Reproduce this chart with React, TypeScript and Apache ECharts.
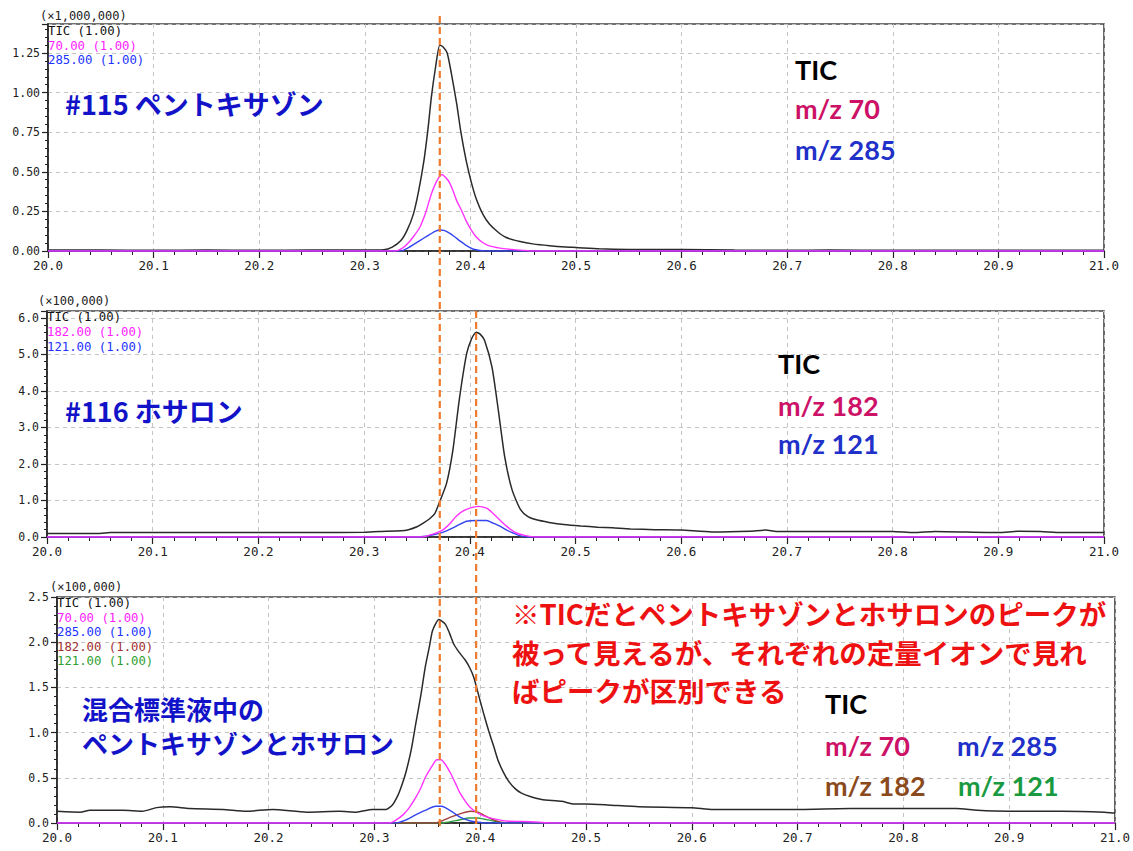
import React, { useEffect, useRef } from "react";
import * as echarts from "echarts";

// ---- axis ranges / ticks ----
const X_MIN = 20.0;
const X_MAX = 21.0;
const X_STEP = 0.1;
const Y1_MAX = 1.433; // ×1,000,000
const Y1_STEP = 0.25;
const Y2_MAX = 6.19; // ×100,000
const Y2_STEP = 1;
const Y3_MAX = 2.5; // ×100,000
const Y3_STEP = 0.5;

// ---- retention times of the two marked peaks ----
const PEAK_PENTOXAZONE = 20.371;
const PEAK_PHOSALONE = 20.406;

// ---- panel 1 : #115 pentoxazone (×1,000,000) ----
const tic115 = [
  [20.0, 0.006], [20.05, 0.006], [20.1, 0.005], [20.15, 0.006], [20.2, 0.005], [20.25, 0.006],
  [20.3, 0.006], [20.318, 0.008], [20.326, 0.025], [20.334, 0.064], [20.34, 0.13], [20.346, 0.233],
  [20.351, 0.38], [20.356, 0.57], [20.36, 0.78], [20.363, 0.97], [20.367, 1.16], [20.371, 1.3],
  [20.374, 1.29], [20.378, 1.25], [20.382, 1.12], [20.387, 0.93], [20.391, 0.75], [20.396, 0.57],
  [20.401, 0.43], [20.406, 0.32], [20.412, 0.23], [20.418, 0.17], [20.426, 0.12], [20.434, 0.085],
  [20.447, 0.06], [20.459, 0.045], [20.475, 0.033], [20.49, 0.025], [20.5, 0.022], [20.522, 0.014],
  [20.55, 0.01], [20.6, 0.009], [20.65, 0.006], [20.7, 0.004], [20.74, 0.006], [20.8, 0.004],
  [20.9, 0.004], [21.0, 0.004],
];
const mz70_115 = [
  [20.0, 0], [20.329, 0], [20.335, 0.015], [20.34, 0.042], [20.346, 0.09], [20.352, 0.148],
  [20.358, 0.25], [20.363, 0.36], [20.368, 0.44], [20.373, 0.483], [20.379, 0.445], [20.383, 0.39],
  [20.387, 0.318], [20.392, 0.25], [20.396, 0.19], [20.401, 0.13], [20.406, 0.085], [20.412, 0.052],
  [20.418, 0.032], [20.428, 0.018], [20.437, 0.011], [20.45, 0.004], [20.459, 0], [21.0, 0],
];
const mz285_115 = [
  [20.0, 0], [20.334, 0], [20.341, 0.02], [20.349, 0.053], [20.356, 0.082], [20.362, 0.106],
  [20.367, 0.125], [20.371, 0.133], [20.375, 0.13], [20.379, 0.117], [20.385, 0.09], [20.39, 0.064],
  [20.396, 0.035], [20.403, 0.011], [20.415, 0], [21.0, 0],
];

// ---- panel 2 : #116 phosalone (×100,000) ----
const tic116 = [
  [20.0, 0.095], [20.05, 0.095], [20.06, 0.12], [20.15, 0.12], [20.2, 0.12], [20.25, 0.12],
  [20.3, 0.13], [20.314, 0.15], [20.335, 0.17], [20.342, 0.2], [20.35, 0.28], [20.356, 0.38],
  [20.362, 0.5], [20.367, 0.65], [20.371, 0.93], [20.378, 1.47], [20.384, 2.38], [20.39, 3.75],
  [20.397, 5.02], [20.402, 5.45], [20.406, 5.61], [20.41, 5.55], [20.414, 5.38], [20.421, 4.65],
  [20.427, 3.47], [20.433, 2.2], [20.44, 1.29], [20.448, 0.75], [20.455, 0.56], [20.463, 0.47],
  [20.475, 0.4], [20.489, 0.34], [20.505, 0.3], [20.521, 0.27], [20.535, 0.25], [20.552, 0.22],
  [20.575, 0.2], [20.6, 0.19], [20.629, 0.14], [20.665, 0.16], [20.68, 0.19], [20.69, 0.15],
  [20.75, 0.15], [20.8, 0.15], [20.82, 0.12], [20.84, 0.15], [20.9, 0.12], [20.92, 0.16],
  [20.94, 0.15], [20.96, 0.12], [21.0, 0.12],
];
const mz182_116 = [
  [20.0, 0], [20.355, 0], [20.362, 0.05], [20.369, 0.12], [20.375, 0.2], [20.381, 0.36],
  [20.387, 0.56], [20.393, 0.7], [20.4, 0.79], [20.408, 0.84], [20.416, 0.79], [20.42, 0.7],
  [20.425, 0.56], [20.43, 0.42], [20.435, 0.29], [20.44, 0.18], [20.444, 0.11], [20.454, 0.03],
  [20.462, 0], [21.0, 0],
];
const mz121_116 = [
  [20.0, 0], [20.352, 0], [20.362, 0.04], [20.371, 0.1], [20.378, 0.17], [20.384, 0.25],
  [20.39, 0.34], [20.397, 0.43], [20.406, 0.45], [20.416, 0.45], [20.422, 0.38], [20.429, 0.29],
  [20.435, 0.19], [20.441, 0.11], [20.448, 0.03], [20.455, 0], [21.0, 0],
];

// ---- panel 3 : mixed standard (×100,000) ----
const ticMix = [
  [20.0, 0.13], [20.022, 0.12], [20.031, 0.14], [20.062, 0.14], [20.081, 0.13], [20.094, 0.17],
  [20.107, 0.18], [20.125, 0.16], [20.157, 0.15], [20.179, 0.13], [20.204, 0.15], [20.236, 0.12],
  [20.267, 0.13], [20.283, 0.12], [20.298, 0.15], [20.311, 0.15], [20.317, 0.2], [20.322, 0.3],
  [20.326, 0.42], [20.33, 0.57], [20.335, 0.82], [20.339, 1.09], [20.344, 1.42], [20.348, 1.72],
  [20.352, 1.95], [20.355, 2.13], [20.361, 2.25], [20.367, 2.2], [20.371, 2.1], [20.375, 1.98],
  [20.38, 1.89], [20.386, 1.8], [20.39, 1.72], [20.394, 1.61], [20.4, 1.35], [20.404, 1.18],
  [20.408, 1.02], [20.413, 0.84], [20.417, 0.69], [20.422, 0.56], [20.427, 0.46], [20.433, 0.38],
  [20.439, 0.33], [20.448, 0.29], [20.458, 0.26], [20.477, 0.24], [20.489, 0.21], [20.5, 0.21],
  [20.52, 0.2], [20.55, 0.18], [20.6, 0.17], [20.62, 0.15], [20.7, 0.15], [20.75, 0.16],
  [20.8, 0.16], [20.85, 0.16], [20.87, 0.14], [20.9, 0.13], [20.95, 0.13], [20.99, 0.12], [21.0, 0.11],
];
const mz70Mix = [
  [20.0, 0], [20.314, 0], [20.32, 0.03], [20.327, 0.09], [20.333, 0.17], [20.339, 0.28],
  [20.344, 0.39], [20.348, 0.5], [20.354, 0.62], [20.359, 0.7], [20.363, 0.7], [20.367, 0.65],
  [20.372, 0.55], [20.377, 0.43], [20.381, 0.33], [20.386, 0.24], [20.39, 0.18], [20.395, 0.13],
  [20.401, 0.09], [20.408, 0.06], [20.418, 0.035], [20.427, 0.02], [20.44, 0.018], [20.455, 0.01],
  [20.466, 0], [21.0, 0],
];
const mz285Mix = [
  [20.0, 0], [20.32, 0], [20.33, 0.035], [20.339, 0.09], [20.348, 0.14], [20.358, 0.185],
  [20.363, 0.185], [20.367, 0.17], [20.374, 0.12], [20.38, 0.07], [20.386, 0.04], [20.392, 0.02],
  [20.405, 0], [21.0, 0],
];
const mz182Mix = [
  [20.0, 0], [20.358, 0], [20.364, 0.025], [20.37, 0.055], [20.377, 0.085], [20.383, 0.11],
  [20.391, 0.13], [20.398, 0.12], [20.403, 0.09], [20.408, 0.06], [20.414, 0.03], [20.42, 0.01],
  [20.43, 0], [21.0, 0],
];
const mz121Mix = [
  [20.0, 0], [20.364, 0], [20.37, 0.01], [20.377, 0.026], [20.383, 0.042], [20.389, 0.055],
  [20.398, 0.055], [20.404, 0.042], [20.411, 0.026], [20.417, 0.01], [20.423, 0], [21.0, 0],
];

// ---- texts ----
const scaleLabels = ["(×1,000,000)", "(×100,000)", "(×100,000)"];
const legend1 = ["TIC (1.00)", "70.00 (1.00)", "285.00 (1.00)"];
const legend2 = ["TIC (1.00)", "182.00 (1.00)", "121.00 (1.00)"];
const legend3 = ["TIC (1.00)", "70.00 (1.00)", "285.00 (1.00)", "182.00 (1.00)", "121.00 (1.00)"];
const noteLines = [
  "※TICだとペントキサゾンとホサロンのピークが",
  "被って見えるが、それぞれの定量イオンで見れ",
  "ばピークが区別できる",
];

const C_TIC = "#2a2a2a";
const C_MAG = "#ff33ff";
const C_BLUE = "#3344ee";
const C_BROWN = "#a0403a";
const C_GREEN = "#2f9f3f";

const MONO = "'DejaVu Sans Mono', monospace";
const JP = "'Noto Sans CJK JP', sans-serif";
const LAT = "Lato, 'Noto Sans', sans-serif";

export default function App() {
  const ref = useRef<HTMLDivElement>(null);

  useEffect(() => {
    const chart = echarts.init(ref.current!, null, { renderer: "svg" });

    const grids = [
      { left: 48, top: 24, width: 1056, height: 227 },
      { left: 47, top: 311, width: 1057, height: 226 },
      { left: 57, top: 597, width: 1058, height: 226 },
    ].map((g) => ({ ...g, show: true, borderColor: "#444", borderWidth: 1.6, backgroundColor: "transparent" }));

    const dashed = { show: true, lineStyle: { color: "#c4c4c4", type: [4, 4] as any, width: 1 } };

    const makeX = (i: number) => ({
      type: "value",
      gridIndex: i,
      min: X_MIN,
      max: X_MAX,
      interval: X_STEP,
      axisLine: { show: true, onZero: false, lineStyle: { color: "#222", width: 1.6 } },
      axisTick: { show: true, length: 7, lineStyle: { color: "#222", width: 1.2 } },
      minorTick: { show: true, splitNumber: 5, length: 4, lineStyle: { color: "#222", width: 1 } },
      axisLabel: {
        formatter: (v: number) => v.toFixed(1),
        fontFamily: MONO,
        fontSize: 12.5,
        color: "#222",
        margin: 8,
      },
      splitLine: dashed,
    });

    const makeY = (i: number, max: number, step: number, digits: number, showMax: boolean) => ({
      type: "value",
      gridIndex: i,
      min: 0,
      max,
      interval: step,
      axisLine: { show: true, onZero: false, lineStyle: { color: "#222", width: 1.6 } },
      axisTick: { show: true, length: 6, lineStyle: { color: "#222", width: 1.2 } },
      minorTick: { show: true, splitNumber: 5, length: 3, lineStyle: { color: "#222", width: 1 } },
      axisLabel: {
        formatter: (v: number) => v.toFixed(digits),
        fontFamily: MONO,
        fontSize: 11.5,
        color: "#222",
        margin: 8,
        showMaxLabel: showMax,
      },
      splitLine: dashed,
    });

    const line = (i: number, data: number[][], color: string, width = 1.4) => ({
      type: "line",
      xAxisIndex: i,
      yAxisIndex: i,
      data,
      showSymbol: false,
      smooth: 0.2,
      lineStyle: { color, width },
      itemStyle: { color },
      silent: true,
    });

    chart.setOption({
      animation: false,
      backgroundColor: "#ffffff",
      grid: grids,
      xAxis: [makeX(0), makeX(1), makeX(2)],
      yAxis: [
        makeY(0, Y1_MAX, Y1_STEP, 2, false),
        makeY(1, Y2_MAX, Y2_STEP, 1, false),
        makeY(2, Y3_MAX, Y3_STEP, 1, true),
      ],
      series: [
        line(0, tic115, C_TIC, 1.5),
        line(0, mz285_115, C_BLUE),
        line(0, mz70_115, C_MAG),
        line(1, tic116, C_TIC, 1.5),
        line(1, mz121_116, C_BLUE),
        line(1, mz182_116, C_MAG),
        line(2, ticMix, C_TIC, 1.5),
        line(2, mz121Mix, C_GREEN),
        line(2, mz182Mix, C_BROWN),
        line(2, mz285Mix, C_BLUE),
        line(2, mz70Mix, C_MAG),
      ],
    });

    const px1 = chart.convertToPixel({ xAxisIndex: 0 }, PEAK_PENTOXAZONE) as number;
    const px2 = chart.convertToPixel({ xAxisIndex: 1 }, PEAK_PHOSALONE) as number;

    const txt = (x: number, y: number, text: string, fill: string, fontSize: number, fontFamily: string, fontWeight: any = "normal") => ({
      type: "text",
      x,
      y,
      z: 50,
      style: { text, fill, fontSize, fontFamily, fontWeight, verticalAlign: "middle", align: "left" },
    });

    const legendTexts = (x: number, y0: number, dy: number, items: string[], colors: string[]) =>
      items.map((t, k) => txt(x, y0 + k * dy, t, colors[k], 12.3, MONO));

    const orange = (x: number, y1: number, y2: number) => ({
      type: "line",
      z: 100,
      shape: { x1: x, y1, x2: x, y2 },
      style: { stroke: "#ee7a2e", lineWidth: 2.2, lineDash: [7, 4] },
    });

    const BLUE_T = "#1212c8";
    const RED_T = "#cc1166";

    chart.setOption({
      graphic: [
        txt(40, 16, scaleLabels[0], "#222", 12, MONO),
        txt(38, 301, scaleLabels[1], "#222", 12, MONO),
        txt(50, 587, scaleLabels[2], "#222", 12, MONO),
        ...legendTexts(48, 31, 14.5, legend1, ["#111", "#ff22ff", "#2233ff"]),
        ...legendTexts(47, 317, 15, legend2, ["#111", "#ff22ff", "#2233ff"]),
        ...legendTexts(57, 603, 14.6, legend3, ["#111", "#ff22ff", "#2233ff", "#a03030", "#30a030"]),
        txt(65, 103, "#115 ペントキサゾン", BLUE_T, 27, JP, "bold"),
        txt(795, 69, "TIC", "#000", 27, LAT, "bold"),
        txt(795, 108, "m/z 70", RED_T, 27, LAT, "bold"),
        txt(795, 149, "m/z 285", "#2030c8", 27, LAT, "bold"),
        txt(65, 410, "#116 ホサロン", BLUE_T, 27, JP, "bold"),
        txt(778, 363, "TIC", "#000", 27, LAT, "bold"),
        txt(778, 405, "m/z 182", RED_T, 27, LAT, "bold"),
        txt(778, 443, "m/z 121", "#2030c8", 27, LAT, "bold"),
        txt(82, 708, "混合標準液中の", BLUE_T, 26, JP, "bold"),
        txt(82, 742, "ペントキサゾンとホサロン", BLUE_T, 26, JP, "bold"),
        ...noteLines.map((t, k) => txt(512, 613 + k * 38.5, t, "#ee1111", 27.5, JP, "bold")),
        txt(825, 703, "TIC", "#000", 27, LAT, "bold"),
        txt(825, 745, "m/z 70", RED_T, 27, LAT, "bold"),
        txt(957, 745, "m/z 285", "#2030c8", 27, LAT, "bold"),
        txt(825, 785, "m/z 182", "#8a4a1c", 27, LAT, "bold"),
        txt(958, 785, "m/z 121", "#1a9a40", 27, LAT, "bold"),
        orange(px1, 16, 830),
        orange(px2, 311, 830),
      ],
    });

    return () => chart.dispose();
  }, []);

  return (
    <div
      ref={ref}
      style={{ position: "fixed", left: 0, top: 0, width: 1133, height: 851, background: "#fff" }}
    />
  );
}
